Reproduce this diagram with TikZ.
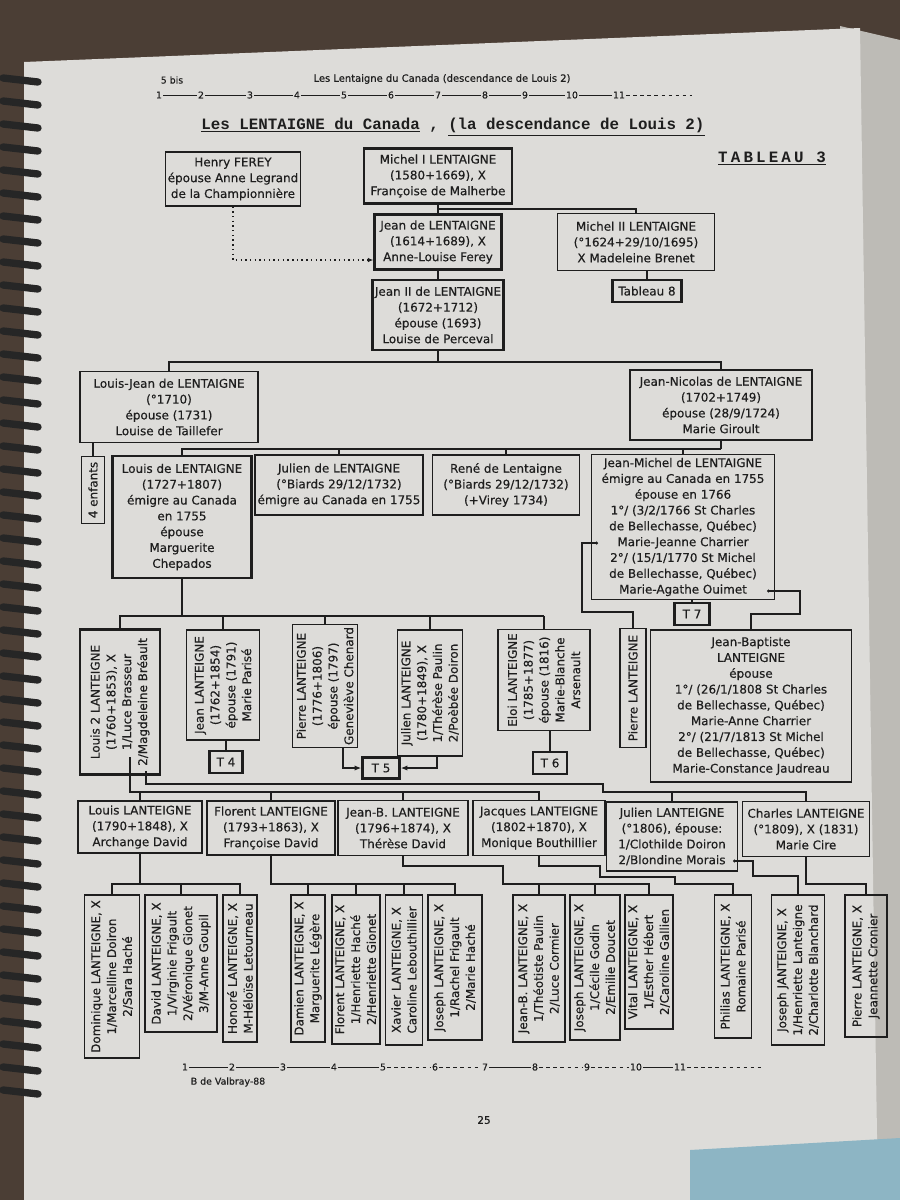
\documentclass[tikz,border=0pt]{standalone}
\usepackage{fontspec}
\setmainfont{DejaVu Sans}[FakeBold=0.4]
\newfontfamily\titlefont{Liberation Mono}
\newfontfamily\tabfont[LetterSpace=20]{Liberation Mono}
\usepackage{xcolor}
\usetikzlibrary{arrows.meta}

\definecolor{ink}{HTML}{1E1E1E}
\definecolor{paper}{HTML}{DDDCD9}
\definecolor{desk}{HTML}{4B3E35}
\definecolor{stack}{HTML}{BDBBB6}
\definecolor{note}{HTML}{8DB5C4}

\begin{document}
\begin{tikzpicture}[
  x=0.3mm, y=-0.3mm,
  color=ink,
  font=\fontsize{10.2}{13.5}\selectfont,
  pers/.style={draw=ink, line width=1.1pt, align=center, inner sep=2pt},
  bold/.style={pers, line width=2.2pt},
  up/.style={rotate=90},
  sz/.style 2 args={minimum width=#1*0.3mm, minimum height=#2*0.3mm},
  link/.style={draw=ink, line width=1pt},
  arr/.style={link, -{Latex[length=2mm, width=1.6mm]}},
  rule/.style={line width=0.7pt},
  num/.style={font=\fontsize{8}{9}\selectfont, inner sep=1pt},
  coil/.style={line width=2.2mm, line cap=round, black!85},
]
\useasboundingbox (0,0) rectangle (900,1200);

% the page on the desk
\fill[desk] (0,0) rectangle (900,1200);
\fill[stack] (840,26) -- (900,40) -- (900,1200) -- (872,1200) -- cycle;
\fill[paper] (24,62) -- (860,28) -- (878,1200) -- (24,1200) -- cycle;
\fill[note] (690,1150) -- (900,1138) -- (900,1200) -- (690,1200) -- cycle;
\foreach \y in {78,101,...,1090}
  \draw[coil] (3,\y) -- (38,\y+4);

% header
\node[num] (bis) at (172,80) {5 bis};
\node[font=\fontsize{8.5}{10}\selectfont, inner sep=1pt] (hdr) at (442,79) {Les Lentaigne du Canada (descendance de Louis 2)};
\foreach \i/\x in {1/159,2/201,3/250,4/297,5/344,6/391,7/438,8/485,9/525,10/572,11/619}
  \node[num] (h\i) at (\x,95) {\i};
\coordinate (hend) at (692,95);
\foreach \i [evaluate=\i as \j using int(\i+1)] in {1,...,10}
  \draw[rule] (h\i) -- (h\j);
\draw[rule, dashed] (h11) -- (hend);

\node[font=\titlefont\fontsize{13.5}{15}\selectfont\bfseries, inner sep=0pt] (title) at (453,127)
  {\underline{Les LENTAIGNE du Canada} , \underline{(la descendance de Louis 2)}};
\node[font=\tabfont\fontsize{13.5}{15}\selectfont\bfseries, inner sep=0pt] (tab) at (772,158) {\underline{TABLEAU 3}};

% Generation I-II — Michel I and his sons
\node[pers, sz={127}{54}] (henry) at (233,179) {Henry FEREY\\épouse Anne Legrand\\de la Championnière};
\node[bold, sz={148}{55}] (michelA) at (438,176) {Michel I LENTAIGNE\\(1580+1669), X\\Françoise de Malherbe};
\node[bold, sz={127}{55}] (jeanA) at (438,242) {Jean de LENTAIGNE\\(1614+1689), X\\Anne-Louise Ferey};
\node[pers, sz={157}{57}] (michelB) at (636,242) {Michel II LENTAIGNE\\(°1624+29/10/1695)\\X Madeleine Brenet};
\node[bold, sz={69}{22}] (tab8) at (647,291) {Tableau 8};
\node[bold, sz={130}{70}] (jeanB) at (438,315) {Jean II de LENTAIGNE\\(1672+1712)\\épouse (1693)\\Louise de Perceval};

\coordinate (bus1) at (0,209);
\draw[link] (michelA) -- (jeanA);
\draw[link] (michelA.south |- bus1) -| (michelB.north);
\draw[link, dash pattern=on 1.2pt off 2.8pt, -{Latex[length=1.6mm, width=1.4mm]}] (henry.south) |- ([yshift=-5.4mm]jeanA.west);
\draw[link] (jeanA) -- (jeanB);
\draw[link] (tab8.north |- michelB.south) -- (tab8.north);

% Generation III — sons of Jean II
\node[pers, sz={178}{71}] (louisJ) at (169,407) {Louis-Jean de LENTAIGNE\\(°1710)\\épouse (1731)\\Louise de Taillefer};
\node[bold, sz={182}{70}] (nicolas) at (721,405) {Jean-Nicolas de LENTAIGNE\\(1702+1749)\\épouse (28/9/1724)\\Marie Giroult};

\coordinate (bus2) at (0,362);
\draw[link] (jeanB.south) -- (jeanB.south |- bus2);
\draw[link] (louisJ.north) |- (bus2 -| nicolas.north) -- (nicolas.north);

% Generation IV — sons of Jean-Nicolas
\node[pers, up, sz={67}{23}] (enfants) at (93,490) {4 enfants};
\node[bold, sz={139}{122}] (louisL) at (182,517) {Louis de LENTAIGNE\\(1727+1807)\\émigre au Canada\\en 1755\\épouse\\Marguerite\\Chepados};
\node[pers, sz={168}{60}] (julienL) at (339,485) {Julien de LENTAIGNE\\(°Biards 29/12/1732)\\émigre au Canada en 1755};
\node[pers, sz={147}{60}] (rene) at (506,485) {René de Lentaigne\\(°Biards 29/12/1732)\\(+Virey 1734)};
\node[pers, sz={183}{145}] (jmichel) at (683,527) {Jean-Michel de LENTAIGNE\\émigre au Canada en 1755\\épouse en 1766\\1°/ (3/2/1766 St Charles\\de Bellechasse, Québec)\\Marie-Jeanne Charrier\\2°/ (15/1/1770 St Michel\\de Bellechasse, Québec)\\Marie-Agathe Ouimet};
\node[bold, sz={35}{22}] (t7) at (692,614) {T 7};

\coordinate (bus3) at (0,449);
\draw[link] (louisJ.south -| enfants.east) -- (enfants.east);
\draw[link] (nicolas.south) -- (nicolas.south |- bus3);
\draw[link] (louisL.north) |- (bus3 -| nicolas.south);
\foreach \nd in {julienL,rene,jmichel}
  \draw[link] (\nd.north) -- (\nd.north |- bus3);
\draw[link] (t7.north |- jmichel.south) -- (t7.north);

% Generation V — children of Louis and of Jean-Michel
\node[bold, up, sz={145}{80}] (louis2) at (120,702) {Louis 2 LANTEIGNE\\(1760+1853), X\\1/Luce Brasseur\\2/Magdeleine Bréault};
\node[pers, up, sz={110}{73}] (jeanL) at (223,685) {Jean LANTEIGNE\\(1762+1854)\\épouse (1791)\\Marie Parisé};
\node[bold, sz={33}{22}] (t4) at (226,762) {T 4};
\node[pers, up, sz={112}{65}] (pierreL) at (325,686) {Pierre LANTEIGNE\\(1776+1806)\\épouse (1797)\\Geneviève Chenard};
\node[pers, up, sz={126}{65}] (julienT) at (430,693) {Julien LANTEIGNE\\(1780+1849), X\\1/Thérèse Paulin\\2/Poèbée Doiron};
\node[bold, sz={37}{21}] (t5) at (381,768) {T 5};
\node[pers, up, sz={101}{92}] (eloi) at (544,680) {Eloi LANTEIGNE\\(1785+1877)\\épouse (1816)\\Marie-Blanche\\Arsenault};
\node[bold, sz={34}{22}] (t6) at (550,763) {T 6};
\node[pers, up, sz={119}{26}] (pierreS) at (633,688) {Pierre LANTEIGNE};
\node[pers, sz={201}{152}] (baptiste) at (751,706) {Jean-Baptiste\\LANTEIGNE\\épouse\\1°/ (26/1/1808 St Charles\\de Bellechasse, Québec)\\Marie-Anne Charrier\\2°/ (21/7/1813 St Michel\\de Bellechasse, Québec)\\Marie-Constance Jaudreau};

\coordinate (bus4) at (0,616);
\draw[link] (louisL.south) -- (louisL.south |- bus4);
\draw[link] (louis2.east) |- (bus4 -| eloi.east);
\foreach \nd in {jeanL,pierreL,julienT,eloi}
  \draw[link] (\nd.east) -- (\nd.east |- bus4);
\draw[link] (t4.north |- jeanL.west) -- (t4.north);
\draw[arr] ([xshift=5.4mm]pierreL.west) |- (t5.west);
\draw[arr] ([xshift=2.1mm]julienT.west) |- (t5.east);
\draw[link] (t6.north |- eloi.west) -- (t6.north);

\coordinate (jmA) at (598,543);
\coordinate (pkA) at (582,612);
\coordinate (jmB) at (767,591);
\coordinate (pkB) at (800,614);
\draw[link, {Circle[length=2.5pt]}-] (jmA) -| (pkA) -| (pierreS.east);
\draw[link, {Circle[length=2.5pt]}-] (jmB) -| (pkB) -| (baptiste.north);

% Generation VI — children of Louis 2 (two marriages)
\node[pers, sz={124}{52}] (louisC) at (140,827) {Louis LANTEIGNE\\(1790+1848), X\\Archange David};
\node[pers, sz={128}{54}] (florentA) at (271,828) {Florent LANTEIGNE\\(1793+1863), X\\Françoise David};
\node[pers, sz={130}{55}] (jeanbA) at (403,828) {Jean-B. LANTEIGNE\\(1796+1874), X\\Thérèse David};
\node[pers, sz={132}{55}] (jacques) at (539,828) {Jacques LANTEIGNE\\(1802+1870), X\\Monique Bouthillier};
\node[pers, sz={131}{69}] (julienC) at (672,836.5) {Julien LANTEIGNE\\(°1806), épouse:\\1/Clothilde Doiron\\2/Blondine Morais};
\node[pers, sz={127}{55}] (charles) at (806,829) {Charles LANTEIGNE\\(°1809), X (1831)\\Marie Cire};

\coordinate (wifeA) at (130,757);
\coordinate (wifeB) at (146,771);
\coordinate (bus5a) at (0,792);
\coordinate (bus5b) at (0,784);
\coordinate (stepB) at (603,792);
\draw[link] (wifeA) |- (bus5a -| jacques.north) -- (jacques.north);
\foreach \nd in {louisC,florentA,jeanbA}
  \draw[link] (\nd.north) -- (\nd.north |- bus5a);
\draw[link] (wifeB) |- (bus5b -| stepB) -- (stepB) -| (charles.north);
\draw[link] (julienC.north) -- (julienC.north |- stepB);

% Generation VII — grandchildren
\node[pers, up, sz={163}{55}] (dominique) at (112,976.5) {Dominique LANTEIGNE, X\\1/Marcelline Doiron\\2/Sara Haché};
\node[pers, up, sz={137}{72}] (david) at (181,963.5) {David LANTEIGNE, X\\1/Virginie Frigault\\2/Véronique Gionet\\3/M-Anne Goupil};
\node[pers, up, sz={147}{34}] (honore) at (240,968.5) {Honoré LANTEIGNE, X\\M-Héloïse Letourneau};
\node[pers, up, sz={147}{34}] (damien) at (308,968.5) {Damien LANTEIGNE, X\\Marguerite Légère};
\node[pers, up, sz={149}{48}] (florentB) at (356,969.5) {Florent LANTEIGNE, X\\1/Henriette Haché\\2/Henriette Gionet};
\node[pers, up, sz={150}{37}] (xavier) at (404,970) {Xavier LANTEIGNE, X\\Caroline Lebouthillier};
\node[pers, up, sz={145}{54}] (josephA) at (455,967.5) {Joseph LANTEIGNE, X\\1/Rachel Frigault\\2/Marie Haché};
\node[pers, up, sz={147}{52}] (jeanbB) at (539,968.5) {Jean-B. LANTEIGNE, X\\1/Théotiste Paulin\\2/Luce Cormier};
\node[pers, up, sz={145}{50}] (josephB) at (595,967.5) {Joseph LANTEIGNE, X\\1/Cécile Godin\\2/Emilie Doucet};
\node[pers, up, sz={134}{48}] (vital) at (649,962) {Vital LANTEIGNE, X\\1/Esther Hébert\\2/Caroline Gallien};
\node[pers, up, sz={143}{37}] (philias) at (733,966.5) {Philias LANTEIGNE, X\\Romaine Parisé};
\node[pers, up, sz={150}{53}] (josephC) at (798,970) {Joseph JANTEIGNE, X\\1/Henriette Lanteigne\\2/Charlotte Blanchard};
\node[pers, up, sz={142}{42}] (pierreC) at (866,966) {Pierre LANTEIGNE, X\\Jeannette Cronier};

\coordinate (bus6) at (0,884);
\coordinate (jbS) at (503,866);
\coordinate (jqA) at (600,866);
\coordinate (jqB) at (675,877);
\coordinate (jcA) at (733,861);
\coordinate (jcB) at (753,876);
\draw[link] (louisC.south) -- (louisC.south |- bus6);
\draw[link] (dominique.east) |- (bus6 -| honore.east) -- (honore.east);
\draw[link] (david.east) -- (david.east |- bus6);
\draw[link] (florentA.south) |- (bus6 -| josephA.east) -- (josephA.east);
\foreach \nd in {damien,florentB,xavier}
  \draw[link] (\nd.east) -- (\nd.east |- bus6);
\draw[link] (jeanbA.south) |- (jbS) |- (bus6 -| vital.east) -- (vital.east);
\foreach \nd in {jeanbB,josephB}
  \draw[link] (\nd.east) -- (\nd.east |- bus6);
\draw[link] (jacques.south) |- (jqA) |- (jqB) |- (bus6 -| philias.east) -- (philias.east);
\draw[link, {Circle[length=2.5pt]}-] (jcA) -| (jcB) -| (josephC.east);
\draw[link] (charles.south) |- (bus6 -| pierreC.east) -- (pierreC.east);

% footer
\foreach \i/\x in {1/185,2/232,3/283,4/334,5/383,6/435,7/485,8/535,9/587,10/636,11/680}
  \node[num] (f\i) at (\x,1067) {\i};
\coordinate (fend) at (763,1067);
\foreach \a/\b/\s in {1/2/solid,2/3/solid,3/4/solid,4/5/solid,5/6/dashed,6/7/dashed,7/8/solid,8/9/dashed,9/10/dashed,10/11/solid}
  \draw[rule, \s] (f\a) -- (f\b);
\draw[rule, dashed] (f11) -- (fend);
\node[num] (sig) at (228,1082) {B de Valbray-88};
\node[font=\fontsize{9}{10}\selectfont, inner sep=1pt] (page) at (484,1120) {25};
\end{tikzpicture}
\end{document}
